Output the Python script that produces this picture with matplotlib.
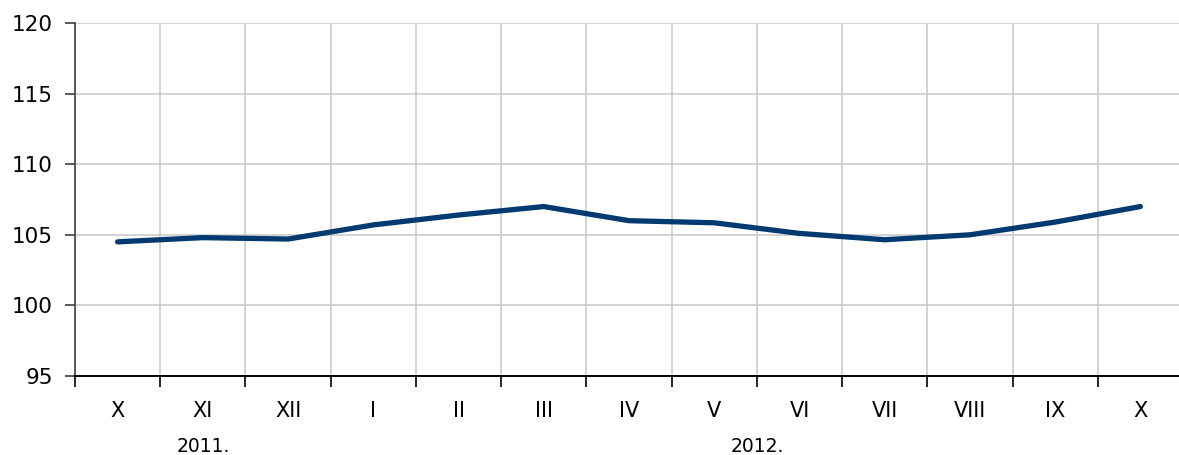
import matplotlib
matplotlib.use("Agg")
import matplotlib.pyplot as plt
import numpy as np

months = ["X", "XI", "XII", "I", "II", "III", "IV", "V", "VI", "VII", "VIII", "IX", "X"]
values = [104.5, 104.8, 104.7, 105.7, 106.4, 107.0, 106.0, 105.85, 105.1, 104.65, 105.0, 105.9, 107.0]
years = ["2011.", "2012."]
year_centers = [1, 7.5]
y_ticks = [95, 100, 105, 110, 115, 120]

plt.rcParams['font.family'] = ['DejaVu Sans']

W, H = 1179, 455
fig = plt.figure(figsize=(W / 100, H / 100), dpi=100)
left, right, top, bottom = 75, 1183, 23, 376
ax_h = bottom - top
ax = fig.add_axes([left / W, 1 - bottom / H, (right - left) / W, ax_h / H])

x = np.arange(len(months))
ax.plot(x, values, color='#003A70', linewidth=3.8, solid_capstyle='round', solid_joinstyle='round', zorder=3)

ax.set_xlim(-0.5, len(months) - 0.5)
ax.set_ylim(95, 120)
ax.set_yticks(y_ticks)
ax.set_yticklabels([str(v) for v in y_ticks])
ax.tick_params(axis='y', direction='out', length=7, width=1.2, color='#404040', pad=9, labelsize=15.5)

bounds = np.arange(-0.5, len(months) - 0.5 + 0.01, 1.0)
ax.set_xticks(bounds)
ax.set_xticklabels([])
ax.tick_params(axis='x', which='major', direction='out', length=8, width=1.2, color='black')

ax.grid(True, which='major', color='#c8c8c8', linewidth=1.1, zorder=0)
ax.set_axisbelow(True)

for s in ['top', 'right']:
    ax.spines[s].set_visible(False)
ax.spines['left'].set_color('#404040')
ax.spines['left'].set_linewidth(1.2)
ax.spines['bottom'].set_color('black')
ax.spines['bottom'].set_linewidth(1.4)
ax.spines['bottom'].set_zorder(4)

trans = ax.get_xaxis_transform()
month_y = -(411 - bottom) / ax_h
for xi, m in zip(x, months):
    ax.text(xi, month_y, m, transform=trans, ha='center', va='center', fontsize=15)

year_y = -(446.5 - bottom) / ax_h
for label, xc in zip(years, year_centers):
    ax.text(xc, year_y, label, transform=trans, ha='center', va='center', fontsize=13.5)

fig.savefig("out.png", dpi=100)
